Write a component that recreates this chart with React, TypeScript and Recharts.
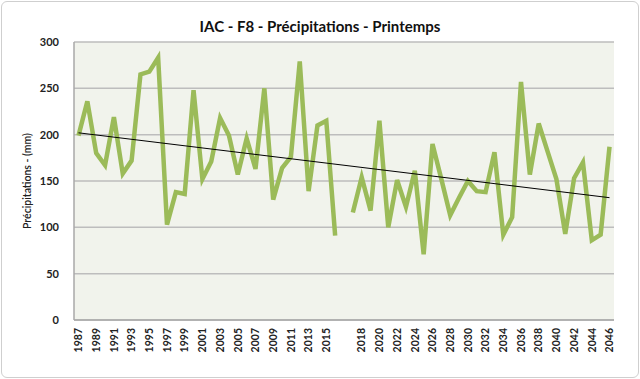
import React from "react";
import {
  LineChart,
  Line,
  XAxis,
  YAxis,
  CartesianGrid,
} from "recharts";

// Années : une catégorie vide sépare 2016 et 2017 (trou dans la série)
const years = [
  "1987", "1988", "1989", "1990", "1991", "1992", "1993", "1994", "1995", "1996",
  "1997", "1998", "1999", "2000", "2001", "2002", "2003", "2004", "2005", "2006",
  "2007", "2008", "2009", "2010", "2011", "2012", "2013", "2014", "2015", "2016",
  "",
  "2017", "2018", "2019", "2020", "2021", "2022", "2023", "2024", "2025", "2026",
  "2027", "2028", "2029", "2030", "2031", "2032", "2033", "2034", "2035", "2036",
  "2037", "2038", "2039", "2040", "2041", "2042", "2043", "2044", "2045", "2046",
];

const precip: (number | null)[] = [
  199, 236, 180, 167, 219, 158, 172, 265, 268, 283,
  103, 138, 136, 248, 152, 171, 218, 199, 157, 196,
  163, 250, 130, 164, 176, 279, 139, 210, 215, 91,
  null,
  116, 154, 118, 215, 100, 151, 122, 161, 71, 190,
  152, 113, 132, 150, 139, 138, 181, 92, 111, 257,
  157, 212, 182, 152, 93, 153, 170, 86, 92, 187,
];

// extrémités de la courbe de tendance
const trendStart = 202;
const trendEnd = 132;

const yTicks = [0, 50, 100, 150, 200, 250, 300];

const data = years.map((label, i) => ({
  label,
  value: precip[i],
  trend: i === 0 ? trendStart : i === years.length - 1 ? trendEnd : null,
}));

const font = "Lato, 'Open Sans', sans-serif";

function YearTick({ x, y, payload }: any) {
  if (!payload.value) return null;
  return (
    <text
      x={x}
      y={y}
      transform={`rotate(-90, ${x}, ${y})`}
      textAnchor="end"
      dy="0.36em"
      fontSize={10.5}
      fontWeight={700}
      fontFamily={font}
      fill="#222"
    >
      {payload.value}
    </text>
  );
}

export default function App() {
  return (
    <div
      style={{
        position: "fixed",
        left: 0,
        top: 0,
        width: 640,
        height: 379,
        background: "#fff",
      }}
    >
      <div
        style={{
          position: "absolute",
          left: 1,
          top: 1,
          width: 636,
          height: 375,
          border: "1px solid #cfcfcf",
          borderRadius: 6,
        }}
      />
      <div
        style={{
          position: "absolute",
          left: 0,
          top: 17,
          width: 640,
          textAlign: "center",
          fontFamily: font,
          fontWeight: 700,
          fontSize: 15,
          color: "#111",
        }}
      >
        IAC - F8 - Précipitations - Printemps
      </div>
      <div style={{ position: "absolute", left: 0, top: 0 }}>
        <LineChart
          width={640}
          height={379}
          data={data}
          margin={{ top: 42, right: 26, left: 0, bottom: 0 }}
        >
          <CartesianGrid
            vertical={false}
            stroke="#bdbdbd"
            strokeWidth={1.5}
            fill="#f1f3ec"
          />
          <XAxis
            dataKey="label"
            interval={1}
            padding={{ left: 4.5, right: 4.5 }}
            tick={<YearTick />}
            tickLine={false}
            axisLine={{ stroke: "#a8a8a8", strokeWidth: 1.5 }}
            height={59}
          />
          <YAxis
            domain={[0, 300]}
            ticks={yTicks}
            width={74}
            tickLine={false}
            axisLine={{ stroke: "#a8a8a8", strokeWidth: 1.5 }}
            tick={{ fontSize: 11, fontWeight: 700, fill: "#222", fontFamily: font }}
            tickMargin={9}
            label={{
              value: "Précipitations - (mm)",
              angle: -90,
              position: "insideLeft",
              offset: 27,
              style: {
                textAnchor: "middle",
                fontSize: 10.5,
                fontWeight: 600,
                fill: "#222",
                fontFamily: font,
              },
            }}
          />
          <Line
            type="linear"
            dataKey="value"
            stroke="#9bbb59"
            strokeWidth={4.5}
            dot={false}
            activeDot={false}
            isAnimationActive={false}
          />
          <Line
            type="linear"
            dataKey="trend"
            stroke="#000"
            strokeWidth={1}
            dot={false}
            activeDot={false}
            connectNulls
            isAnimationActive={false}
          />
        </LineChart>
      </div>
    </div>
  );
}
